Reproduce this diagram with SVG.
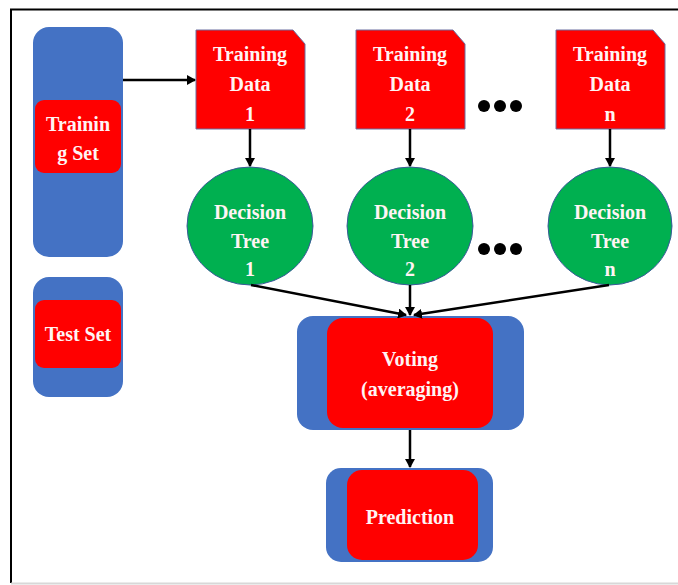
<svg xmlns="http://www.w3.org/2000/svg" width="678" height="585" viewBox="0 0 678 585">
<defs>
<style>
.blue{fill:#4472C4;}
.red{fill:#FF0000;}
.green{fill:#00B050;stroke:#3B5A9A;stroke-width:1;}
.doc{fill:#FF0000;stroke:#6A6FA0;stroke-width:1;}
.t{font-family:"Liberation Serif","Times New Roman",serif;font-weight:bold;font-size:20px;fill:#FFF4F4;text-anchor:middle;dominant-baseline:central;}
.c{stroke:#000;stroke-width:2.5;fill:none;}
.dot{fill:#000;}
</style>
<marker id="ah" markerWidth="10" markerHeight="10" refX="8" refY="5" orient="auto" markerUnits="userSpaceOnUse">
<path d="M0,0 L9,5 L0,10 Z" fill="#000"/>
</marker>
</defs>
<rect x="0" y="0" width="678" height="585" fill="#fff"/>
<path d="M11,583 L11,9.5 L678,9.5" stroke="#000" stroke-width="2" fill="none"/>
<line x1="11" y1="583.5" x2="678" y2="583.5" stroke="#D8D8D8" stroke-width="2"/>

<g id="training-set">
<rect class="blue" x="33" y="27" width="90" height="230" rx="16"/>
<rect class="red" x="35" y="100" width="86" height="73" rx="9"/>
<text class="t" x="78" y="124">Trainin</text>
<text class="t" x="78" y="153">g Set</text>
</g>
<g id="test-set">
<rect class="blue" x="33" y="277" width="90" height="120" rx="16"/>
<rect class="red" x="35" y="300" width="86" height="68" rx="9"/>
<text class="t" x="78" y="334">Test Set</text>
</g>

<g id="training-data-1">
<polygon class="doc" points="196,30 293,30 305,44 305,129 196,129"/>
<text class="t" x="250" y="54">Training</text>
<text class="t" x="250" y="84">Data</text>
<text class="t" x="250" y="114">1</text>
</g>
<g id="training-data-2">
<polygon class="doc" points="356,30 453,30 465,44 465,129 356,129"/>
<text class="t" x="410" y="54">Training</text>
<text class="t" x="410" y="84">Data</text>
<text class="t" x="410" y="114">2</text>
</g>
<g id="training-data-n">
<polygon class="doc" points="556,30 653,30 665,44 665,129 556,129"/>
<text class="t" x="610" y="54">Training</text>
<text class="t" x="610" y="84">Data</text>
<text class="t" x="610" y="114">n</text>
</g>
<g id="dots-top">
<circle class="dot" cx="484" cy="106" r="6"/>
<circle class="dot" cx="500" cy="106" r="6"/>
<circle class="dot" cx="516" cy="106" r="6"/>
</g>

<g id="decision-tree-1">
<ellipse class="green" cx="250" cy="226" rx="63" ry="59"/>
<text class="t" x="250" y="212">Decision</text>
<text class="t" x="250" y="241">Tree</text>
<text class="t" x="250" y="269">1</text>
</g>
<g id="decision-tree-2">
<ellipse class="green" cx="410" cy="226" rx="63" ry="59"/>
<text class="t" x="410" y="212">Decision</text>
<text class="t" x="410" y="241">Tree</text>
<text class="t" x="410" y="269">2</text>
</g>
<g id="decision-tree-n">
<ellipse class="green" cx="610" cy="226" rx="62" ry="59"/>
<text class="t" x="610" y="212">Decision</text>
<text class="t" x="610" y="241">Tree</text>
<text class="t" x="610" y="269">n</text>
</g>
<g id="dots-mid">
<circle class="dot" cx="484" cy="249" r="6"/>
<circle class="dot" cx="500" cy="249" r="6"/>
<circle class="dot" cx="516" cy="249" r="6"/>
</g>

<g id="voting">
<rect class="blue" x="297" y="316" width="227" height="114" rx="16"/>
<rect class="red" x="327" y="318" width="166" height="110" rx="16"/>
<text class="t" x="410" y="359">Voting</text>
<text class="t" x="410" y="389">(averaging)</text>
</g>
<g id="prediction">
<rect class="blue" x="326" y="468" width="167" height="94" rx="15"/>
<rect class="red" x="347" y="470" width="131" height="90" rx="15"/>
<text class="t" x="410" y="517">Prediction</text>
</g>

<g id="connectors">
<line class="c" x1="123" y1="80" x2="195" y2="80" marker-end="url(#ah)"/>
<line class="c" x1="250" y1="129" x2="250" y2="166" marker-end="url(#ah)"/>
<line class="c" x1="410" y1="129" x2="410" y2="166" marker-end="url(#ah)"/>
<line class="c" x1="610" y1="129" x2="610" y2="166" marker-end="url(#ah)"/>
<line class="c" x1="251" y1="285" x2="406" y2="315" marker-end="url(#ah)"/>
<line class="c" x1="410" y1="285" x2="410" y2="315" marker-end="url(#ah)"/>
<line class="c" x1="609" y1="285" x2="414" y2="315" marker-end="url(#ah)"/>
<line class="c" x1="410" y1="430" x2="410" y2="467" marker-end="url(#ah)"/>
</g>
</svg>
